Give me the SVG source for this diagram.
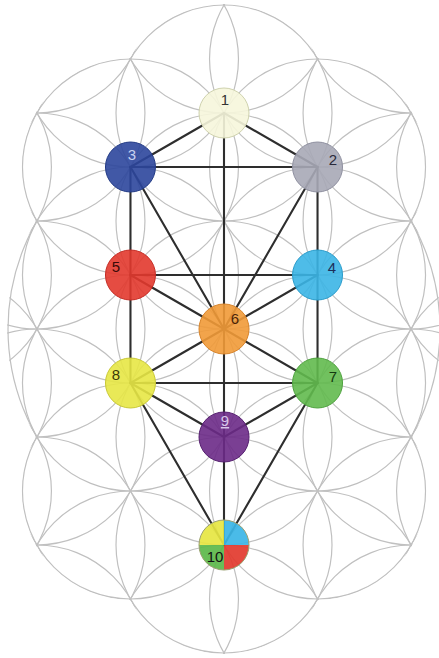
<svg xmlns="http://www.w3.org/2000/svg" width="439" height="658" viewBox="0 0 439 658">
<style>
.fl{fill:none;stroke:#c0c0c0;stroke-width:1.2}
.cn{stroke:#2e2e2e;stroke-width:2.1;stroke-linecap:round}
.nd{fill-opacity:0.9;stroke-width:1}
.lb{font-family:"Liberation Sans",Arial,sans-serif;font-size:15px;text-anchor:middle}
</style>
<defs>
<clipPath id="U">
<circle cx="224" cy="329" r="217"/>
<circle cx="224" cy="113" r="109"/>
<circle cx="130.47" cy="167" r="109"/>
<circle cx="317.53" cy="167" r="109"/>
<circle cx="130.47" cy="491" r="109"/>
<circle cx="317.53" cy="491" r="109"/>
<circle cx="224" cy="545" r="109"/>
</clipPath>
<mask id="M">
<rect x="0" y="0" width="439" height="658" fill="#fff"/>
<circle cx="224" cy="113" r="107" fill="#000"/>
<circle cx="130.47" cy="167" r="107" fill="#000"/>
<circle cx="317.53" cy="167" r="107" fill="#000"/>
<circle cx="130.47" cy="491" r="107" fill="#000"/>
<circle cx="317.53" cy="491" r="107" fill="#000"/>
<circle cx="224" cy="545" r="107" fill="#000"/>
</mask>
</defs>
<rect x="0" y="0" width="439" height="658" fill="#fff"/>
<g id="flower" class="fl">
<circle cx="224" cy="329" r="216" mask="url(#M)"/>
<g clip-path="url(#U)">
<circle cx="224" cy="5" r="108"/><circle cx="224" cy="113" r="108"/><circle cx="224" cy="221" r="108"/><circle cx="224" cy="329" r="108"/><circle cx="224" cy="437" r="108"/><circle cx="224" cy="545" r="108"/><circle cx="224" cy="653" r="108"/>
<circle cx="130.47" cy="59" r="108"/><circle cx="130.47" cy="167" r="108"/><circle cx="130.47" cy="275" r="108"/><circle cx="130.47" cy="383" r="108"/><circle cx="130.47" cy="491" r="108"/><circle cx="130.47" cy="599" r="108"/>
<circle cx="317.53" cy="59" r="108"/><circle cx="317.53" cy="167" r="108"/><circle cx="317.53" cy="275" r="108"/><circle cx="317.53" cy="383" r="108"/><circle cx="317.53" cy="491" r="108"/><circle cx="317.53" cy="599" r="108"/>
<circle cx="36.94" cy="5" r="108"/><circle cx="36.94" cy="113" r="108"/><circle cx="36.94" cy="221" r="108"/><circle cx="36.94" cy="329" r="108"/><circle cx="36.94" cy="437" r="108"/><circle cx="36.94" cy="545" r="108"/><circle cx="36.94" cy="653" r="108"/>
<circle cx="411.06" cy="5" r="108"/><circle cx="411.06" cy="113" r="108"/><circle cx="411.06" cy="221" r="108"/><circle cx="411.06" cy="329" r="108"/><circle cx="411.06" cy="437" r="108"/><circle cx="411.06" cy="545" r="108"/><circle cx="411.06" cy="653" r="108"/>
<circle cx="-56.59" cy="59" r="108"/><circle cx="-56.59" cy="167" r="108"/><circle cx="-56.59" cy="275" r="108"/><circle cx="-56.59" cy="383" r="108"/><circle cx="-56.59" cy="491" r="108"/><circle cx="-56.59" cy="599" r="108"/>
<circle cx="504.59" cy="59" r="108"/><circle cx="504.59" cy="167" r="108"/><circle cx="504.59" cy="275" r="108"/><circle cx="504.59" cy="383" r="108"/><circle cx="504.59" cy="491" r="108"/><circle cx="504.59" cy="599" r="108"/>
</g>
</g>
<g id="connectors" class="cn">
<line x1="224" y1="113" x2="317.53" y2="167"/>
<line x1="224" y1="113" x2="130.47" y2="167"/>
<line x1="224" y1="113" x2="224" y2="329"/>
<line x1="130.47" y1="167" x2="317.53" y2="167"/>
<line x1="317.53" y1="167" x2="317.53" y2="275"/>
<line x1="317.53" y1="167" x2="224" y2="329"/>
<line x1="130.47" y1="167" x2="130.47" y2="275"/>
<line x1="130.47" y1="167" x2="224" y2="329"/>
<line x1="130.47" y1="275" x2="317.53" y2="275"/>
<line x1="317.53" y1="275" x2="224" y2="329"/>
<line x1="130.47" y1="275" x2="224" y2="329"/>
<line x1="317.53" y1="275" x2="317.53" y2="383"/>
<line x1="130.47" y1="275" x2="130.47" y2="383"/>
<line x1="224" y1="329" x2="317.53" y2="383"/>
<line x1="224" y1="329" x2="130.47" y2="383"/>
<line x1="224" y1="329" x2="224" y2="437"/>
<line x1="130.47" y1="383" x2="317.53" y2="383"/>
<line x1="317.53" y1="383" x2="224" y2="437"/>
<line x1="130.47" y1="383" x2="224" y2="437"/>
<line x1="317.53" y1="383" x2="224" y2="545"/>
<line x1="130.47" y1="383" x2="224" y2="545"/>
<line x1="224" y1="437" x2="224" y2="545"/>
</g>
<g id="n1"><circle class="nd" cx="224" cy="113" r="25" fill="#f6f6dc" stroke="#cfd2ae"/><text class="lb" x="225" y="105" fill="#333">1</text></g>
<g id="n2"><circle class="nd" cx="317.53" cy="167" r="25" fill="#a7a8b6" stroke="#8f90a0"/><text class="lb" x="333" y="165" fill="#2a2a3a">2</text></g>
<g id="n3"><circle class="nd" cx="130.47" cy="167" r="25" fill="#2c469c" stroke="#223a85"/><text class="lb" x="132" y="160" fill="#c8d2f0">3</text></g>
<g id="n4"><circle class="nd" cx="317.53" cy="275" r="25" fill="#3bb5e6" stroke="#2a9ccb"/><text class="lb" x="332" y="273" fill="#1d2f5a">4</text></g>
<g id="n5"><circle class="nd" cx="130.47" cy="275" r="25" fill="#e2392e" stroke="#c52c24"/><text class="lb" x="116" y="272" fill="#3a0a08">5</text></g>
<g id="n6"><circle class="nd" cx="224" cy="329" r="25" fill="#f19a37" stroke="#d8842a"/><text class="lb" x="235" y="324" fill="#4a2408">6</text></g>
<g id="n7"><circle class="nd" cx="317.53" cy="383" r="25" fill="#62ba4e" stroke="#4ea23e"/><text class="lb" x="333" y="382" fill="#143a10">7</text></g>
<g id="n8"><circle class="nd" cx="130.47" cy="383" r="25" fill="#e7e745" stroke="#c9c935"/><text class="lb" x="116" y="380" fill="#3a3a08">8</text></g>
<g id="n9"><circle class="nd" cx="224" cy="437" r="25" fill="#6b2a87" stroke="#561f70"/><text class="lb" x="225" y="426" fill="#d8c6ea" text-decoration="underline">9</text></g>
<g id="n10">
<path d="M224 545 L224 520 A25 25 0 0 0 199 545 Z" fill="#e6e642" fill-opacity="0.92"/>
<path d="M224 545 L249 545 A25 25 0 0 0 224 520 Z" fill="#3bb5e6" fill-opacity="0.92"/>
<path d="M224 545 L199 545 A25 25 0 0 0 224 570 Z" fill="#5cb84a" fill-opacity="0.92"/>
<path d="M224 545 L224 570 A25 25 0 0 0 249 545 Z" fill="#e2392e" fill-opacity="0.92"/>
<circle cx="224" cy="545" r="25" fill="none" stroke="#9aa070" stroke-width="1"/>
<text class="lb" x="215" y="562" fill="#111">10</text>
</g>
</svg>
